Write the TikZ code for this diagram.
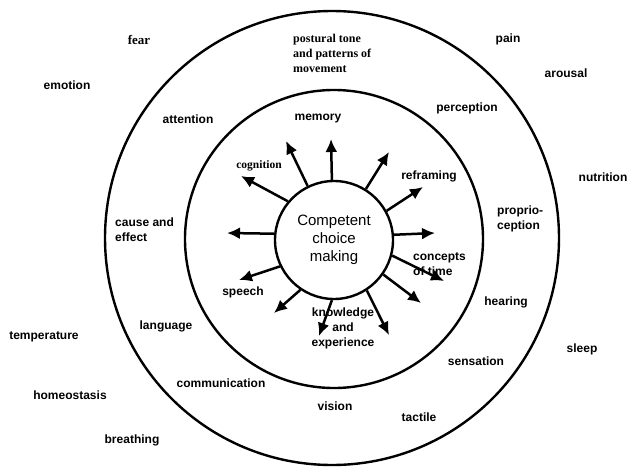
\documentclass[tikz,border=0pt]{standalone}
\usepackage{fontspec}
\setmainfont{Liberation Sans}
\newfontfamily\labelserif{Liberation Serif}
\usetikzlibrary{arrows.meta}
\begin{document}
\begin{tikzpicture}[x=1pt,y=-1pt,
  ring/.style={circle,draw,line width=2.4pt,inner sep=0pt},
  lbl/.style={font=\fontsize{12}{15}\selectfont\bfseries,inner sep=0pt,align=left},
  slbl/.style={font=\fontsize{12.5}{15}\selectfont\labelserif\bfseries,inner sep=0pt,align=left},
  ray/.style={line width=2.5pt,-{Latex[length=13pt,width=12pt]}}]
\useasboundingbox (0,0) rectangle (629,466);
\fill[white] (0,0) rectangle (629,466);

% the three rings
\node[ring,minimum size=454pt] (outer) at (332,238) {};
\node[ring,minimum size=298pt] (middle) at (334,239) {};
\node[ring,minimum size=118pt,align=center,
      font=\fontsize{15}{18}\selectfont] (core) at (334,240)
      {Competent\\choice\\making};

% outside the rings
\node[slbl,font=\fontsize{13}{15}\selectfont\labelserif\bfseries] (fear) at (139,40) {fear};
\node[lbl] (pain) at (508,39) {pain};
\node[lbl] (arousal) at (566,73) {arousal};
\node[lbl] (emotion) at (67,85) {emotion};
\node[lbl] (nutrition) at (603,177) {nutrition};
\node[lbl] (temperature) at (44,337) {temperature};
\node[lbl] (sleep) at (582,349) {sleep};
\node[lbl] (homeostasis) at (70,395) {homeostasis};
\node[lbl] (breathing) at (132,440) {breathing};

% between outer and middle ring
\node[slbl,font=\fontsize{12}{15}\selectfont\labelserif\bfseries,anchor=west]
  (postural) at (293,53.5) {postural tone\\and patterns of\\movement};
\node[lbl] (attention) at (188,119) {attention};
\node[lbl] (perception) at (467,108) {perception};
\node[lbl,anchor=west] (cause) at (115,229.5) {cause and\\effect};
\node[lbl,anchor=west] (proprio) at (497,219) {proprio-\\ception};
\node[lbl] (hearing) at (506,302) {hearing};
\node[lbl] (language) at (166,326) {language};
\node[lbl] (sensation) at (476,361) {sensation};
\node[lbl] (communication) at (221,383) {communication};
\node[lbl] (vision) at (335,406) {vision};
\node[lbl] (tactile) at (419,417) {tactile};

% inside the middle ring
\node[lbl] (memory) at (318,119) {memory};
\node[slbl,font=\fontsize{11.5}{14}\selectfont\labelserif\bfseries]
  (cognition) at (259,166) {cognition};
\node[lbl] (reframing) at (429,176) {reframing};
\node[lbl,anchor=west] (concepts) at (413,264.5) {concepts\\of time};
\node[lbl] (speech) at (243,292) {speech};
\node[lbl,align=center] (knowledge) at (343,328.5) {knowledge\\and\\experience};

% free ends of the rays
\coordinate (t1) at (331,139);
\coordinate (t2) at (286,141);
\coordinate (t3) at (241,176);
\coordinate (t4) at (227,233);
\coordinate (t5) at (239,280);
\coordinate (t6) at (274,313);
\coordinate (t7) at (319,336);
\coordinate (t8) at (389,335);
\coordinate (t9) at (421,303);
\coordinate (t10) at (444,281);
\coordinate (t11) at (435,233);
\coordinate (t12) at (423,187);
\coordinate (t13) at (389,152);

% rays leaving the core
\draw[ray] (core.92) -- (t1);
\draw[ray] (core.116) -- (t2);
\draw[ray] (core.140) -- (t3);
\draw[ray] (core.174) -- (t4);
\draw[ray] (core.206) -- (t5);
\draw[ray] (core.236) -- (t6);
\draw[ray] (core.268) -- (t7);
\draw[ray] (core.303) -- (t8);
\draw[ray] (core.325) -- (t9);
\draw[ray] (core.345) -- (t10);
\draw[ray] (core.5) -- (t11);
\draw[ray] (core.29) -- (t12);
\draw[ray] (core.58) -- (t13);
\end{tikzpicture}
\end{document}
